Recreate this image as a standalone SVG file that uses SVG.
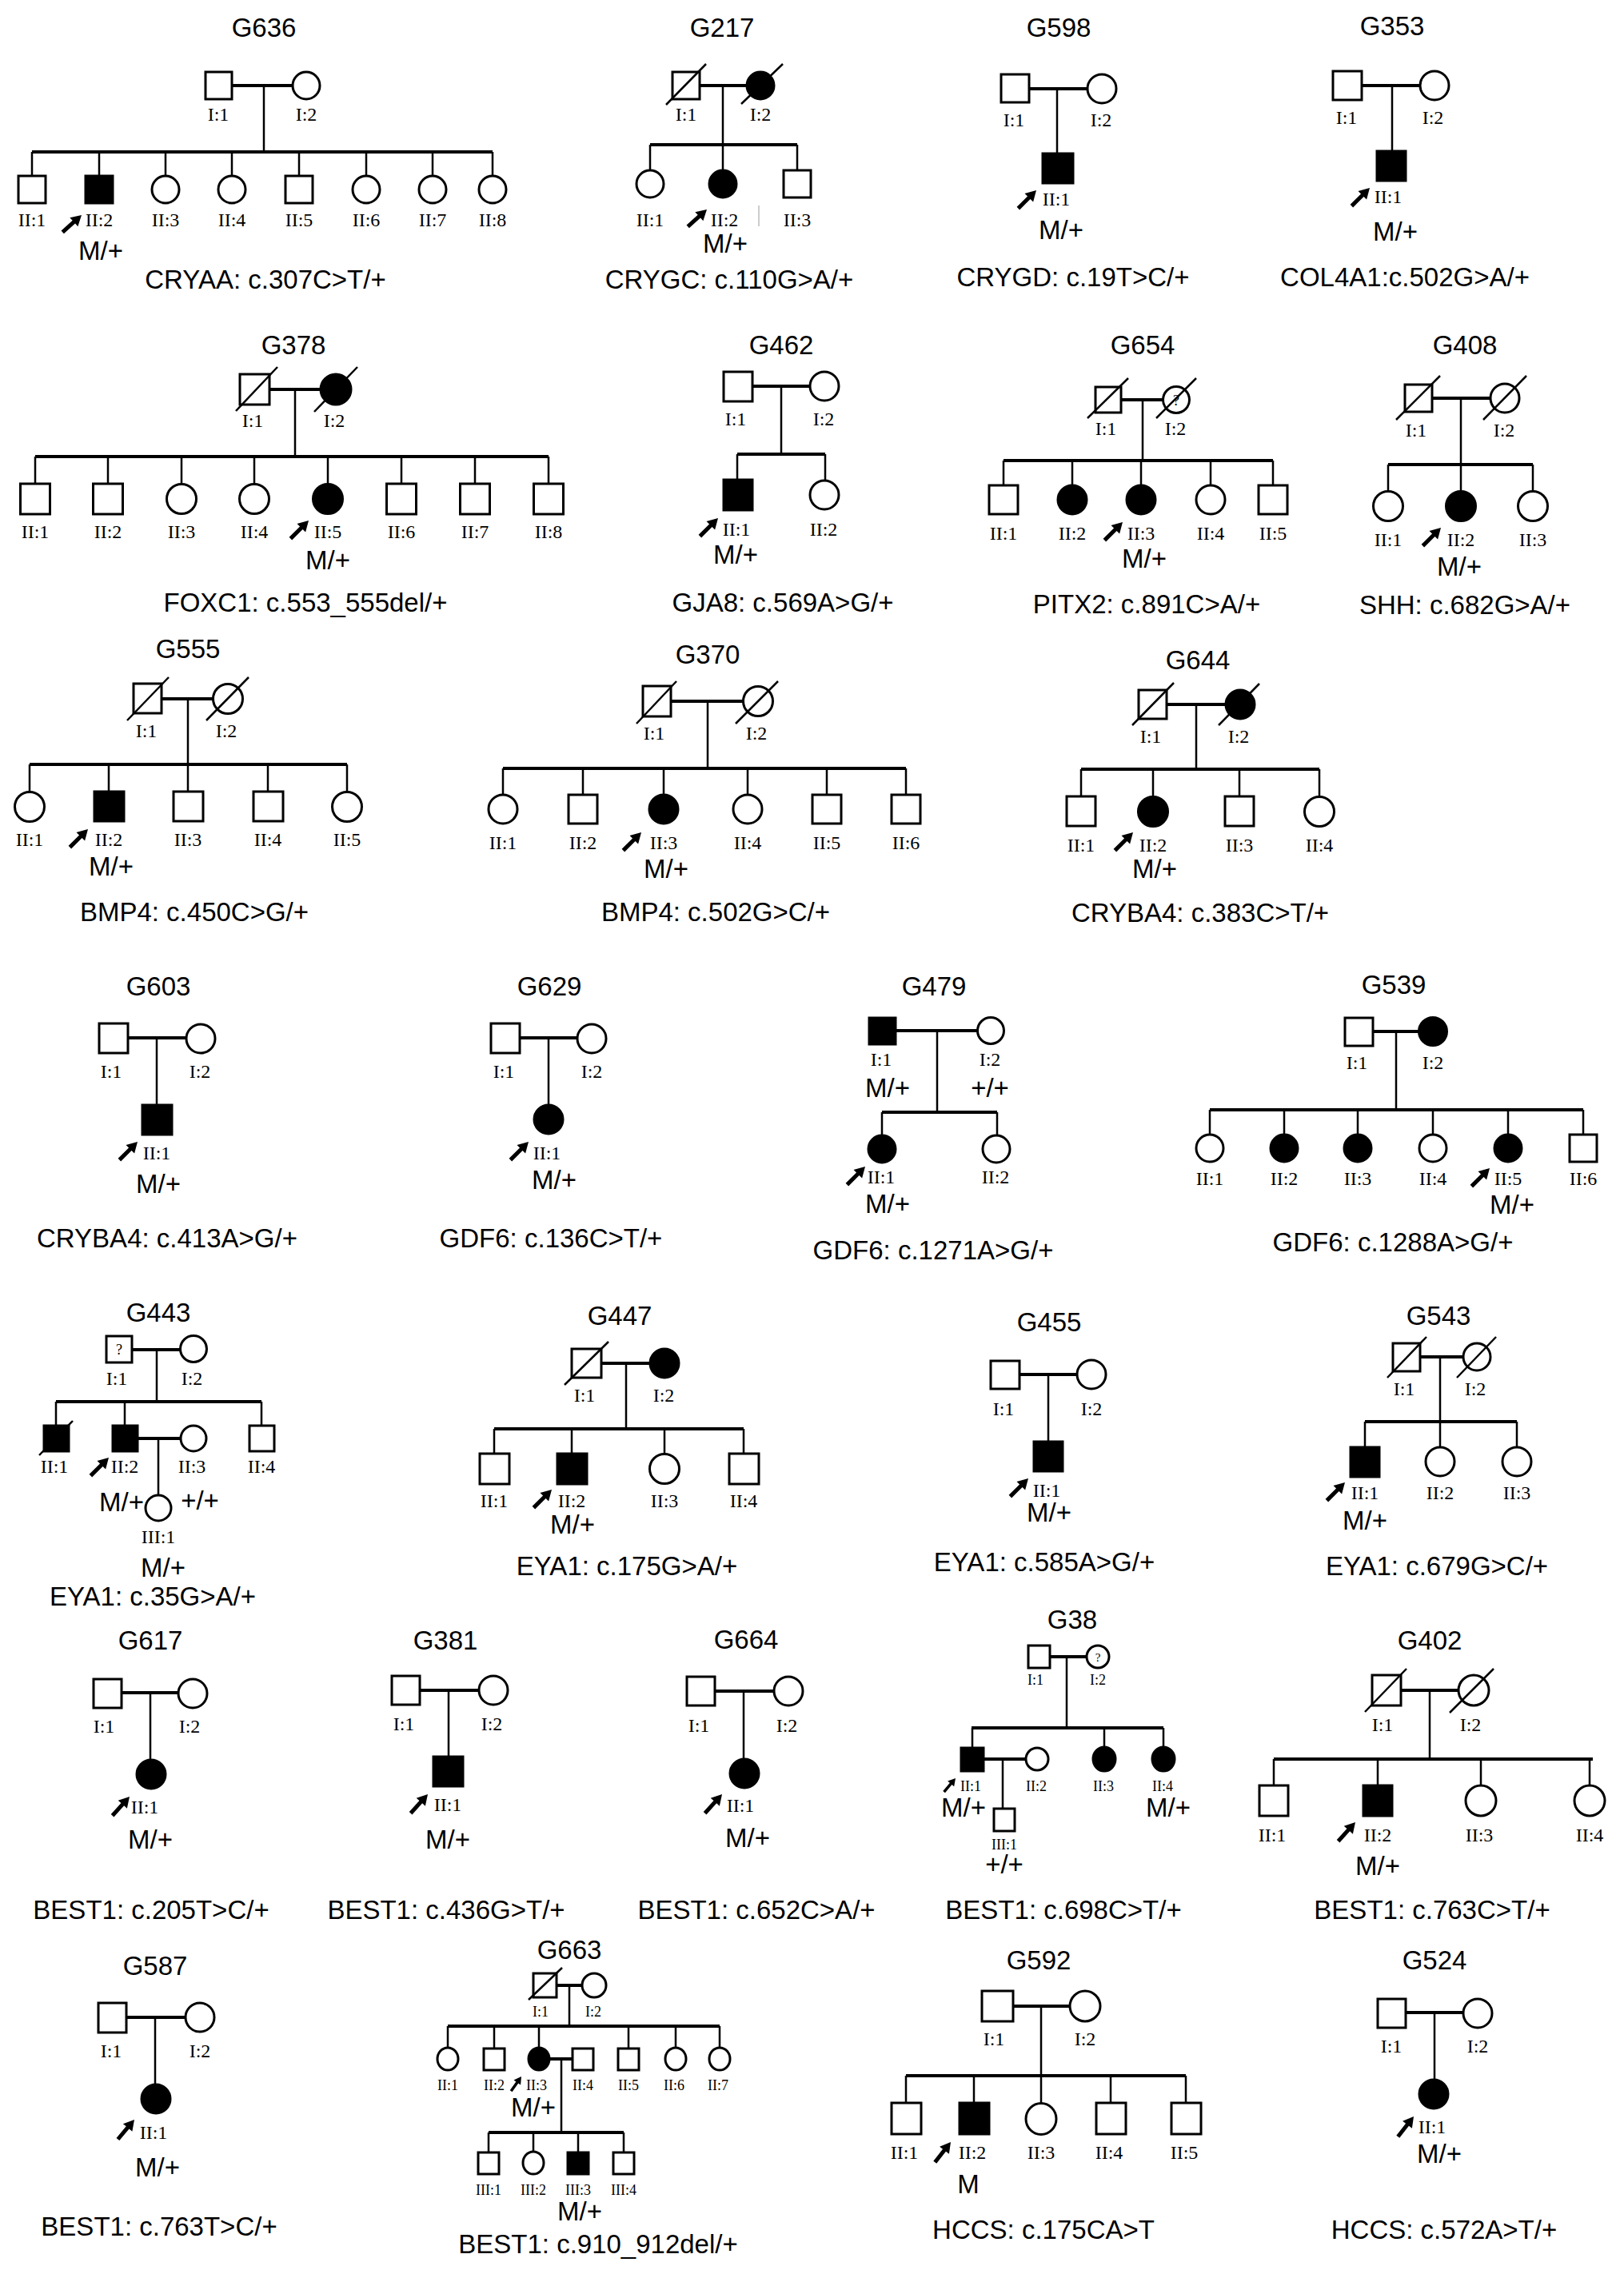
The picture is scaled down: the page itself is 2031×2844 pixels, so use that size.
<svg xmlns="http://www.w3.org/2000/svg" width="2031" height="2844" viewBox="0 0 2031 2844">
<style>
.n{fill:#fff;stroke:#000;stroke-width:3}
.f{fill:#000;stroke:#000;stroke-width:3}
.x{stroke:#000;stroke-width:2.5}
.c{fill:none;stroke:#000;stroke-width:2.5}
.k{stroke-width:4}
text{font-family:"Liberation Sans",Arial,sans-serif;text-anchor:middle;fill:#000}
.t{font-size:33px}
.m{font-size:33px}
.l{font-family:"Liberation Serif","Times New Roman",serif;font-size:24px}
.s{font-family:"Liberation Serif","Times New Roman",serif;font-size:18px}
.q{font-family:"Liberation Serif","Times New Roman",serif;font-size:18px}
</style>
<defs><path id="arr" d="M0,0L-13,-7.5L-13,-2.5L-32,-2.5L-32,2.5L-13,2.5L-13,7.5Z"/></defs>
<rect width="2031" height="2844" fill="#fff"/>

<!-- G636 -->
<g id="G636">
<text class="t" x="330" y="46">G636</text>
<g class="c" id="G636-conn"><path class="k" d="M290,107H366M40,190H616"/><path d="M330,107V190M40,190V220M124,190V220M207,190V220M290,190V220M374,190V220M458,190V220M541,190V220M616,190V220"/></g>
<g id="G636-I1"><rect class="n" x="257" y="90" width="33" height="34"/><text class="l" x="273" y="151">I:1</text></g>
<g id="G636-I2"><circle class="n" cx="383" cy="107" r="17"/><text class="l" x="383" y="151">I:2</text></g>
<g id="G636-II1"><rect class="n" x="23" y="220" width="34" height="34"/><text class="l" x="40" y="283">II:1</text></g>
<g id="G636-II2"><rect class="f" x="107" y="220" width="34" height="34"/><text class="l" x="124" y="283">II:2</text><use href="#arr" transform="translate(102,269) rotate(-42)"/><text class="m" x="126" y="325">M/+</text></g>
<g id="G636-II3"><circle class="n" cx="207" cy="237" r="17"/><text class="l" x="207" y="283">II:3</text></g>
<g id="G636-II4"><circle class="n" cx="290" cy="237" r="17"/><text class="l" x="290" y="283">II:4</text></g>
<g id="G636-II5"><rect class="n" x="357" y="220" width="34" height="34"/><text class="l" x="374" y="283">II:5</text></g>
<g id="G636-II6"><circle class="n" cx="458" cy="237" r="17"/><text class="l" x="458" y="283">II:6</text></g>
<g id="G636-II7"><circle class="n" cx="541" cy="237" r="17"/><text class="l" x="541" y="283">II:7</text></g>
<g id="G636-II8"><circle class="n" cx="616" cy="237" r="17"/><text class="l" x="616" y="283">II:8</text></g>
<text class="m" x="332" y="361">CRYAA: c.307C&gt;T/+</text>
</g>

<!-- G217 -->
<g id="G217">
<text class="t" x="903" y="46">G217</text>
<g class="c" id="G217-conn"><path class="k" d="M875,107H934M813,181H997"/><path d="M904,107V181M813,181V213M904,181V213M997,181V213"/></g>
<g id="G217-I1"><rect class="n" x="841" y="90" width="34" height="34"/><line class="x" x1="833" y1="131" x2="883" y2="80"/><text class="l" x="858" y="151">I:1</text></g>
<g id="G217-I2"><circle class="f" cx="951" cy="107" r="17"/><line class="x" x1="927" y1="130" x2="979" y2="80"/><text class="l" x="951" y="151">I:2</text></g>
<g id="G217-II1"><circle class="n" cx="813" cy="230" r="17"/><text class="l" x="813" y="283">II:1</text></g>
<g id="G217-II2"><circle class="f" cx="904" cy="230" r="17"/><text class="l" x="906" y="283">II:2</text><use href="#arr" transform="translate(884,262) rotate(-42)"/><text class="m" x="907" y="316">M/+</text></g>
<g id="G217-II3"><rect class="n" x="980" y="213" width="34" height="34"/><text class="l" x="997" y="283">II:3</text></g>
<line x1="949" y1="257" x2="949" y2="283" stroke="#bbb" stroke-width="1.5"/>
<text class="m" x="912" y="361">CRYGC: c.110G&gt;A/+</text>
</g>

<!-- G598 -->
<g id="G598">
<text class="t" x="1324" y="46">G598</text>
<g class="c" id="G598-conn"><path class="k" d="M1287,111H1360"/><path d="M1322,111V192"/></g>
<g id="G598-I1"><rect class="n" x="1252" y="93" width="35" height="35"/><text class="l" x="1268" y="158">I:1</text></g>
<g id="G598-I2"><circle class="n" cx="1378" cy="111" r="18"/><text class="l" x="1377" y="158">I:2</text></g>
<g id="G598-II1"><rect class="f" x="1304" y="192" width="38" height="37"/><text class="l" x="1321" y="257">II:1</text><use href="#arr" transform="translate(1296,238) rotate(-45)"/><text class="m" x="1327" y="299">M/+</text></g>
<text class="m" x="1342" y="358">CRYGD: c.19T&gt;C/+</text>
</g>

<!-- G353 -->
<g id="G353">
<text class="t" x="1741" y="44">G353</text>
<g class="c" id="G353-conn"><path class="k" d="M1703,107H1776"/><path d="M1741,107V189"/></g>
<g id="G353-I1"><rect class="n" x="1667" y="89" width="36" height="36"/><text class="l" x="1684" y="155">I:1</text></g>
<g id="G353-I2"><circle class="n" cx="1794" cy="107" r="18"/><text class="l" x="1792" y="155">I:2</text></g>
<g id="G353-II1"><rect class="f" x="1722" y="189" width="36" height="37"/><text class="l" x="1736" y="254">II:1</text><use href="#arr" transform="translate(1713,235) rotate(-45)"/><text class="m" x="1745" y="301">M/+</text></g>
<text class="m" x="1757" y="358">COL4A1:c.502G&gt;A/+</text>
</g>

<!-- G378 -->
<g id="G378">
<text class="t" x="367" y="443">G378</text>
<g class="c" id="G378-conn"><path class="k" d="M337,487H402M44,571H686"/><path d="M369,487V571M44,571V605M135,571V605M227,571V605M318,571V605M410,571V605M502,571V605M594,571V605M686,571V605"/></g>
<g id="G378-I1"><rect class="n" x="300" y="468" width="37" height="38"/><line class="x" x1="295" y1="514" x2="347" y2="459"/><text class="l" x="316" y="534">I:1</text></g>
<g id="G378-I2"><circle class="f" cx="420" cy="487" r="19"/><line class="x" x1="393" y1="515" x2="447" y2="459"/><text class="l" x="418" y="534">I:2</text></g>
<g id="G378-II1"><rect class="n" x="25.5" y="605" width="37" height="38"/><text class="l" x="44" y="673">II:1</text></g>
<g id="G378-II2"><rect class="n" x="116.5" y="605" width="37" height="38"/><text class="l" x="135" y="673">II:2</text></g>
<g id="G378-II3"><circle class="n" cx="227" cy="624" r="18.5"/><text class="l" x="227" y="673">II:3</text></g>
<g id="G378-II4"><circle class="n" cx="318" cy="624" r="18.5"/><text class="l" x="318" y="673">II:4</text></g>
<g id="G378-II5"><circle class="f" cx="410" cy="624" r="18.5"/><text class="l" x="410" y="673">II:5</text><use href="#arr" transform="translate(386,651) rotate(-45)"/><text class="m" x="410" y="712">M/+</text></g>
<g id="G378-II6"><rect class="n" x="483.5" y="605" width="37" height="38"/><text class="l" x="502" y="673">II:6</text></g>
<g id="G378-II7"><rect class="n" x="575.5" y="605" width="37" height="38"/><text class="l" x="594" y="673">II:7</text></g>
<g id="G378-II8"><rect class="n" x="667.5" y="605" width="37" height="38"/><text class="l" x="686" y="673">II:8</text></g>
<text class="m" x="382" y="765">FOXC1: c.553_555del/+</text>
</g>

<!-- G462 -->
<g id="G462">
<text class="t" x="977" y="443">G462</text>
<g class="c" id="G462-conn"><path class="k" d="M941,483H1013M922,568H1032"/><path d="M977,483V568M922,568V600M1032,568V600"/></g>
<g id="G462-I1"><rect class="n" x="905" y="465" width="36" height="37"/><text class="l" x="920" y="532">I:1</text></g>
<g id="G462-I2"><circle class="n" cx="1031" cy="483" r="18"/><text class="l" x="1030" y="532">I:2</text></g>
<g id="G462-II1"><rect class="f" x="905" y="600" width="36" height="38"/><text class="l" x="921" y="670">II:1</text><use href="#arr" transform="translate(898,648) rotate(-45)"/><text class="m" x="920" y="705">M/+</text></g>
<g id="G462-II2"><circle class="n" cx="1031" cy="619" r="18"/><text class="l" x="1030" y="670">II:2</text></g>
<text class="m" x="979" y="765">GJA8: c.569A&gt;G/+</text>
</g>

<!-- G654 -->
<g id="G654">
<text class="t" x="1429" y="443">G654</text>
<g class="c" id="G654-conn"><path class="k" d="M1402,500H1454M1255,576H1592"/><path d="M1429,500V576M1255,576V607M1341,576V607M1427,576V607M1514,576V607M1592,576V607"/></g>
<g id="G654-I1"><rect class="n" x="1370" y="484" width="32" height="32"/><line class="x" x1="1360" y1="523" x2="1411" y2="473"/><text class="l" x="1383" y="544">I:1</text></g>
<g id="G654-I2"><circle class="n" cx="1471" cy="500" r="16.5"/><text class="q" x="1471" y="507">?</text><line class="x" x1="1446" y1="523" x2="1496" y2="473"/><text class="l" x="1470" y="544">I:2</text></g>
<g id="G654-II1"><rect class="n" x="1237" y="607" width="36" height="36"/><text class="l" x="1255" y="675">II:1</text></g>
<g id="G654-II2"><circle class="f" cx="1341" cy="625" r="18"/><text class="l" x="1341" y="675">II:2</text></g>
<g id="G654-II3"><circle class="f" cx="1427" cy="625" r="18"/><text class="l" x="1427" y="675">II:3</text><use href="#arr" transform="translate(1404,653) rotate(-45)"/><text class="m" x="1431" y="710">M/+</text></g>
<g id="G654-II4"><circle class="n" cx="1514" cy="625" r="18"/><text class="l" x="1514" y="675">II:4</text></g>
<g id="G654-II5"><rect class="n" x="1574" y="607" width="36" height="36"/><text class="l" x="1592" y="675">II:5</text></g>
<text class="m" x="1434" y="767">PITX2: c.891C&gt;A/+</text>
</g>

<!-- G408 -->
<g id="G408">
<text class="t" x="1832" y="443">G408</text>
<g class="c" id="G408-conn"><path class="k" d="M1791,498H1864M1736,581H1917"/><path d="M1827,498V581M1736,581V615M1827,581V615M1917,581V615"/></g>
<g id="G408-I1"><rect class="n" x="1757" y="481" width="34" height="34"/><line class="x" x1="1746" y1="525" x2="1801" y2="470"/><text class="l" x="1771" y="546">I:1</text></g>
<g id="G408-I2"><circle class="n" cx="1882" cy="498" r="18"/><line class="x" x1="1855" y1="525" x2="1909" y2="470"/><text class="l" x="1881" y="546">I:2</text></g>
<g id="G408-II1"><circle class="n" cx="1736" cy="633" r="18.5"/><text class="l" x="1736" y="683">II:1</text></g>
<g id="G408-II2"><circle class="f" cx="1827" cy="633" r="18.5"/><text class="l" x="1827" y="683">II:2</text><use href="#arr" transform="translate(1802,660) rotate(-45)"/><text class="m" x="1825" y="720">M/+</text></g>
<g id="G408-II3"><circle class="n" cx="1917" cy="633" r="18.5"/><text class="l" x="1917" y="683">II:3</text></g>
<text class="m" x="1832" y="768">SHH: c.682G&gt;A/+</text>
</g>

<!-- G555 -->
<g id="G555">
<text class="t" x="235" y="823">G555</text>
<g class="c" id="G555-conn"><path class="k" d="M202,874H267M37,956H434"/><path d="M235,874V956M37,956V990M136,956V990M235,956V990M335,956V990M434,956V990"/></g>
<g id="G555-I1"><rect class="n" x="167" y="855" width="35" height="37"/><line class="x" x1="159" y1="901" x2="211" y2="847"/><text class="l" x="183" y="922">I:1</text></g>
<g id="G555-I2"><circle class="n" cx="285" cy="874" r="18.5"/><line class="x" x1="258" y1="901" x2="311" y2="847"/><text class="l" x="283" y="922">I:2</text></g>
<g id="G555-II1"><circle class="n" cx="37" cy="1009" r="18.5"/><text class="l" x="37" y="1058">II:1</text></g>
<g id="G555-II2"><rect class="f" x="118" y="990" width="37" height="37"/><text class="l" x="136" y="1058">II:2</text><use href="#arr" transform="translate(110,1037) rotate(-45)"/><text class="m" x="139" y="1095">M/+</text></g>
<g id="G555-II3"><rect class="n" x="217" y="990" width="37" height="37"/><text class="l" x="235" y="1058">II:3</text></g>
<g id="G555-II4"><rect class="n" x="317" y="990" width="37" height="37"/><text class="l" x="335" y="1058">II:4</text></g>
<g id="G555-II5"><circle class="n" cx="434" cy="1009" r="18.5"/><text class="l" x="434" y="1058">II:5</text></g>
<text class="m" x="243" y="1152">BMP4: c.450C&gt;G/+</text>
</g>

<!-- G370 -->
<g id="G370">
<text class="t" x="885" y="830">G370</text>
<g class="c" id="G370-conn"><path class="k" d="M839,877H930M629,961H1133"/><path d="M885,877V961M629,961V994M729,961V994M830,961V994M935,961V994M1034,961V994M1133,961V994"/></g>
<g id="G370-I1"><rect class="n" x="804" y="858" width="35" height="38"/><line class="x" x1="796" y1="905" x2="846" y2="852"/><text class="l" x="818" y="925">I:1</text></g>
<g id="G370-I2"><circle class="n" cx="948" cy="877" r="18.5"/><line class="x" x1="920" y1="905" x2="973" y2="852"/><text class="l" x="946" y="925">I:2</text></g>
<g id="G370-II1"><circle class="n" cx="629" cy="1012" r="18"/><text class="l" x="629" y="1062">II:1</text></g>
<g id="G370-II2"><rect class="n" x="711" y="994" width="36" height="36"/><text class="l" x="729" y="1062">II:2</text></g>
<g id="G370-II3"><circle class="f" cx="830" cy="1012" r="18"/><text class="l" x="830" y="1062">II:3</text><use href="#arr" transform="translate(802,1041) rotate(-45)"/><text class="m" x="833" y="1098">M/+</text></g>
<g id="G370-II4"><circle class="n" cx="935" cy="1012" r="18"/><text class="l" x="935" y="1062">II:4</text></g>
<g id="G370-II5"><rect class="n" x="1016" y="994" width="36" height="36"/><text class="l" x="1034" y="1062">II:5</text></g>
<g id="G370-II6"><rect class="n" x="1115" y="994" width="36" height="36"/><text class="l" x="1133" y="1062">II:6</text></g>
<text class="m" x="895" y="1152">BMP4: c.502G&gt;C/+</text>
</g>

<!-- G644 -->
<g id="G644">
<text class="t" x="1498" y="837">G644</text>
<g class="c" id="G644-conn"><path class="k" d="M1459,881H1533M1352,962H1650"/><path d="M1496,881V962M1352,962V996M1442,962V996M1550,962V996M1650,962V996"/></g>
<g id="G644-I1"><rect class="n" x="1424" y="863" width="35" height="36"/><line class="x" x1="1416" y1="907" x2="1468" y2="854"/><text class="l" x="1439" y="929">I:1</text></g>
<g id="G644-I2"><circle class="f" cx="1551" cy="881" r="18"/><line class="x" x1="1524" y1="907" x2="1575" y2="855"/><text class="l" x="1549" y="929">I:2</text></g>
<g id="G644-II1"><rect class="n" x="1334" y="996" width="36" height="37"/><text class="l" x="1352" y="1065">II:1</text></g>
<g id="G644-II2"><circle class="f" cx="1442" cy="1015" r="18.5"/><text class="l" x="1442" y="1065">II:2</text><use href="#arr" transform="translate(1417,1041) rotate(-45)"/><text class="m" x="1444" y="1098">M/+</text></g>
<g id="G644-II3"><rect class="n" x="1532" y="996" width="36" height="37"/><text class="l" x="1550" y="1065">II:3</text></g>
<g id="G644-II4"><circle class="n" cx="1650" cy="1015" r="18.5"/><text class="l" x="1650" y="1065">II:4</text></g>
<text class="m" x="1501" y="1153">CRYBA4: c.383C&gt;T/+</text>
</g>

<!-- G603 -->
<g id="G603">
<text class="t" x="198" y="1245">G603</text>
<g class="c" id="G603-conn"><path class="k" d="M160,1298H233"/><path d="M196,1298V1382"/></g>
<g id="G603-I1"><rect class="n" x="124" y="1280" width="36" height="37"/><text class="l" x="139" y="1348">I:1</text></g>
<g id="G603-I2"><circle class="n" cx="251" cy="1299" r="18"/><text class="l" x="250" y="1348">I:2</text></g>
<g id="G603-II1"><rect class="f" x="178" y="1382" width="37" height="37"/><text class="l" x="196" y="1450">II:1</text><use href="#arr" transform="translate(172,1428) rotate(-45)"/><text class="m" x="198" y="1492">M/+</text></g>
<text class="m" x="209" y="1560">CRYBA4: c.413A&gt;G/+</text>
</g>

<!-- G629 -->
<g id="G629">
<text class="t" x="687" y="1245">G629</text>
<g class="c" id="G629-conn"><path class="k" d="M650,1298H722"/><path d="M686,1298V1382"/></g>
<g id="G629-I1"><rect class="n" x="614" y="1280" width="36" height="37"/><text class="l" x="630" y="1348">I:1</text></g>
<g id="G629-I2"><circle class="n" cx="740" cy="1299" r="18"/><text class="l" x="740" y="1348">I:2</text></g>
<g id="G629-II1"><circle class="f" cx="686" cy="1400" r="18"/><text class="l" x="684" y="1450">II:1</text><use href="#arr" transform="translate(661,1428) rotate(-45)"/><text class="m" x="693" y="1487">M/+</text></g>
<text class="m" x="689" y="1560">GDF6: c.136C&gt;T/+</text>
</g>

<!-- G479 -->
<g id="G479">
<text class="t" x="1168" y="1245">G479</text>
<g class="c" id="G479-conn"><path class="k" d="M1120,1289H1223M1103,1391H1247"/><path d="M1172,1289V1391M1103,1391V1420M1247,1391V1420"/></g>
<g id="G479-I1"><rect class="f" x="1087" y="1273" width="33" height="33"/><text class="l" x="1102" y="1333">I:1</text><text class="m" x="1110" y="1372">M/+</text></g>
<g id="G479-I2"><circle class="n" cx="1239" cy="1289" r="16.5"/><text class="l" x="1238" y="1333">I:2</text><text class="m" x="1238" y="1372">+/+</text></g>
<g id="G479-II1"><circle class="f" cx="1103" cy="1437" r="17"/><text class="l" x="1102" y="1480">II:1</text><use href="#arr" transform="translate(1082,1459) rotate(-45)"/><text class="m" x="1110" y="1517">M/+</text></g>
<g id="G479-II2"><circle class="n" cx="1246" cy="1437" r="17"/><text class="l" x="1245" y="1480">II:2</text></g>
<text class="m" x="1167" y="1575">GDF6: c.1271A&gt;G/+</text>
</g>

<!-- G539 -->
<g id="G539">
<text class="t" x="1743" y="1243">G539</text>
<g class="c" id="G539-conn"><path class="k" d="M1717,1290H1775M1513,1388H1980"/><path d="M1746,1290V1388M1513,1388V1419M1606,1388V1419M1698,1388V1419M1792,1388V1419M1886,1388V1419M1980,1388V1419"/></g>
<g id="G539-I1"><rect class="n" x="1682" y="1273" width="35" height="35"/><text class="l" x="1697" y="1337">I:1</text></g>
<g id="G539-I2"><circle class="f" cx="1792" cy="1290" r="17.5"/><text class="l" x="1792" y="1337">I:2</text></g>
<g id="G539-II1"><circle class="n" cx="1513" cy="1436" r="17"/><text class="l" x="1513" y="1482">II:1</text></g>
<g id="G539-II2"><circle class="f" cx="1606" cy="1436" r="17"/><text class="l" x="1606" y="1482">II:2</text></g>
<g id="G539-II3"><circle class="f" cx="1698" cy="1436" r="17"/><text class="l" x="1698" y="1482">II:3</text></g>
<g id="G539-II4"><circle class="n" cx="1792" cy="1436" r="17"/><text class="l" x="1792" y="1482">II:4</text></g>
<g id="G539-II5"><circle class="f" cx="1886" cy="1436" r="17"/><text class="l" x="1886" y="1482">II:5</text><use href="#arr" transform="translate(1863,1461) rotate(-45)"/><text class="m" x="1891" y="1518">M/+</text></g>
<g id="G539-II6"><rect class="n" x="1963" y="1419" width="34" height="34"/><text class="l" x="1980" y="1482">II:6</text></g>
<text class="m" x="1742" y="1565">GDF6: c.1288A&gt;G/+</text>
</g>

<!-- G443 -->
<g id="G443">
<text class="t" x="198" y="1653">G443</text>
<g class="c" id="G443-conn"><path class="k" d="M165,1688H226M70,1753H327M172,1799H226"/><path d="M196,1688V1753M70,1753V1783M156,1753V1783M327,1753V1783M198,1799V1870"/></g>
<g id="G443-I1"><rect class="n" x="133" y="1671" width="32" height="33"/><text class="q" x="149" y="1694">?</text><text class="l" x="146" y="1732">I:1</text></g>
<g id="G443-I2"><circle class="n" cx="242" cy="1687" r="16.5"/><text class="l" x="240" y="1732">I:2</text></g>
<g id="G443-II1"><rect class="f" x="55" y="1783" width="31" height="32"/><line class="x" x1="49" y1="1820" x2="91" y2="1777"/><text class="l" x="68" y="1842">II:1</text></g>
<g id="G443-II2"><rect class="f" x="141" y="1783" width="31" height="32"/><text class="l" x="156" y="1842">II:2</text><use href="#arr" transform="translate(136,1823) rotate(-45)"/></g>
<g id="G443-II3"><circle class="n" cx="242" cy="1799" r="16"/><text class="l" x="240" y="1842">II:3</text></g>
<g id="G443-II4"><rect class="n" x="312" y="1783" width="31" height="32"/><text class="l" x="327" y="1842">II:4</text></g>
<g id="G443-III1"><circle class="n" cx="198" cy="1886" r="16"/><text class="l" x="198" y="1930">III:1</text><text class="m" x="152" y="1890">M/+</text><text class="m" x="250" y="1888">+/+</text><text class="m" x="204" y="1972">M/+</text></g>
<text class="m" x="191" y="2008">EYA1: c.35G&gt;A/+</text>
</g>

<!-- G447 -->
<g id="G447">
<text class="t" x="775" y="1657">G447</text>
<g class="c" id="G447-conn"><path class="k" d="M752,1705H813M618,1787H930"/><path d="M783,1705V1787M618,1787V1818M715,1787V1818M831,1787V1818M930,1787V1818"/></g>
<g id="G447-I1"><rect class="n" x="715" y="1687" width="37" height="36"/><line class="x" x1="706" y1="1732" x2="761" y2="1678"/><text class="l" x="731" y="1753">I:1</text></g>
<g id="G447-I2"><circle class="f" cx="831" cy="1705" r="18"/><text class="l" x="830" y="1753">I:2</text></g>
<g id="G447-II1"><rect class="n" x="600" y="1818" width="37" height="38"/><text class="l" x="618" y="1885">II:1</text></g>
<g id="G447-II2"><rect class="f" x="697" y="1818" width="37" height="38"/><text class="l" x="715" y="1885">II:2</text><use href="#arr" transform="translate(690,1863) rotate(-45)"/><text class="m" x="716" y="1918">M/+</text></g>
<g id="G447-II3"><circle class="n" cx="831" cy="1837" r="18.5"/><text class="l" x="831" y="1885">II:3</text></g>
<g id="G447-II4"><rect class="n" x="912" y="1818" width="37" height="38"/><text class="l" x="930" y="1885">II:4</text></g>
<text class="m" x="784" y="1970">EYA1: c.175G&gt;A/+</text>
</g>

<!-- G455 -->
<g id="G455">
<text class="t" x="1312" y="1665">G455</text>
<g class="c" id="G455-conn"><path class="k" d="M1275,1719H1347"/><path d="M1311,1719V1803"/></g>
<g id="G455-I1"><rect class="n" x="1239" y="1702" width="36" height="35"/><text class="l" x="1255" y="1770">I:1</text></g>
<g id="G455-I2"><circle class="n" cx="1365" cy="1719" r="18"/><text class="l" x="1365" y="1770">I:2</text></g>
<g id="G455-II1"><rect class="f" x="1293" y="1803" width="36" height="37"/><text class="l" x="1309" y="1872">II:1</text><use href="#arr" transform="translate(1286,1849) rotate(-45)"/><text class="m" x="1312" y="1903">M/+</text></g>
<text class="m" x="1306" y="1965">EYA1: c.585A&gt;G/+</text>
</g>

<!-- G543 -->
<g id="G543">
<text class="t" x="1799" y="1657">G543</text>
<g class="c" id="G543-conn"><path class="k" d="M1776,1697H1830M1707,1778H1897"/><path d="M1801,1697V1810M1707,1778V1810M1897,1778V1810"/></g>
<g id="G543-I1"><rect class="n" x="1742" y="1680" width="34" height="35"/><line class="x" x1="1735" y1="1723" x2="1784" y2="1672"/><text class="l" x="1756" y="1745">I:1</text></g>
<g id="G543-I2"><circle class="n" cx="1847" cy="1697" r="17"/><line class="x" x1="1822" y1="1723" x2="1871" y2="1672"/><text class="l" x="1845" y="1745">I:2</text></g>
<g id="G543-II1"><rect class="f" x="1689" y="1810" width="36" height="37"/><text class="l" x="1707" y="1875">II:1</text><use href="#arr" transform="translate(1682,1854) rotate(-45)"/><text class="m" x="1707" y="1913">M/+</text></g>
<g id="G543-II2"><circle class="n" cx="1801" cy="1828" r="18"/><text class="l" x="1801" y="1875">II:2</text></g>
<g id="G543-II3"><circle class="n" cx="1897" cy="1828" r="18"/><text class="l" x="1897" y="1875">II:3</text></g>
<text class="m" x="1797" y="1970">EYA1: c.679G&gt;C/+</text>
</g>

<!-- G617 -->
<g id="G617">
<text class="t" x="188" y="2063">G617</text>
<g class="c" id="G617-conn"><path class="k" d="M152,2117H223"/><path d="M188,2117V2202"/></g>
<g id="G617-I1"><rect class="n" x="117" y="2100" width="35" height="36"/><text class="l" x="130" y="2167">I:1</text></g>
<g id="G617-I2"><circle class="n" cx="241" cy="2118" r="18"/><text class="l" x="237" y="2167">I:2</text></g>
<g id="G617-II1"><circle class="f" cx="189" cy="2219" r="18"/><text class="l" x="181" y="2268">II:1</text><use href="#arr" transform="translate(162,2247) rotate(-48)"/><text class="m" x="188" y="2312">M/+</text></g>
<text class="m" x="189" y="2400">BEST1: c.205T&gt;C/+</text>
</g>

<!-- G381 -->
<g id="G381">
<text class="t" x="557" y="2063">G381</text>
<g class="c" id="G381-conn"><path class="k" d="M525,2114H599"/><path d="M561,2114V2197"/></g>
<g id="G381-I1"><rect class="n" x="490" y="2096" width="35" height="36"/><text class="l" x="505" y="2164">I:1</text></g>
<g id="G381-I2"><circle class="n" cx="617" cy="2114" r="18"/><text class="l" x="615" y="2164">I:2</text></g>
<g id="G381-II1"><rect class="f" x="542" y="2197" width="37" height="37"/><text class="l" x="560" y="2265">II:1</text><use href="#arr" transform="translate(535,2244) rotate(-48)"/><text class="m" x="560" y="2312">M/+</text></g>
<text class="m" x="558" y="2400">BEST1: c.436G&gt;T/+</text>
</g>

<!-- G664 -->
<g id="G664">
<text class="t" x="933" y="2062">G664</text>
<g class="c" id="G664-conn"><path class="k" d="M894,2115H968"/><path d="M930,2115V2200"/></g>
<g id="G664-I1"><rect class="n" x="859" y="2097" width="35" height="36"/><text class="l" x="874" y="2166">I:1</text></g>
<g id="G664-I2"><circle class="n" cx="986" cy="2115" r="18"/><text class="l" x="984" y="2166">I:2</text></g>
<g id="G664-II1"><circle class="f" cx="931" cy="2218" r="18"/><text class="l" x="926" y="2266">II:1</text><use href="#arr" transform="translate(903,2244) rotate(-48)"/><text class="m" x="935" y="2310">M/+</text></g>
<text class="m" x="946" y="2400">BEST1: c.652C&gt;A/+</text>
</g>

<!-- G38 -->
<g id="G38">
<text class="t" x="1341" y="2037">G38</text>
<g class="c" id="G38-conn"><path class="k" d="M1312,2072H1359M1215,2161H1455M1230,2200H1283"/><path d="M1334,2072V2161M1216,2161V2186M1381,2161V2186M1455,2161V2186M1254,2200V2262"/></g>
<g id="G38-I1"><rect class="n" x="1286" y="2058" width="27" height="28"/><text class="s" x="1295" y="2107">I:1</text></g>
<g id="G38-I2"><circle class="n" cx="1373" cy="2072" r="14"/><text class="q" x="1373" y="2078" style="font-size:15px">?</text><text class="s" x="1373" y="2107">I:2</text></g>
<g id="G38-II1"><rect class="f" x="1202" y="2186" width="28" height="29"/><text class="s" x="1214" y="2240">II:1</text><use href="#arr" transform="translate(1195,2224) rotate(-50) scale(0.7)"/><text class="m" x="1205" y="2272">M/+</text></g>
<g id="G38-II2"><circle class="n" cx="1297" cy="2200" r="14"/><text class="s" x="1296" y="2240">II:2</text></g>
<g id="G38-II3"><ellipse class="f" cx="1381" cy="2200" rx="14" ry="15"/><text class="s" x="1380" y="2240">II:3</text></g>
<g id="G38-II4"><ellipse class="f" cx="1455" cy="2200" rx="14" ry="15"/><text class="s" x="1454" y="2240">II:4</text><text class="m" x="1461" y="2272">M/+</text></g>
<g id="G38-III1"><rect class="n" x="1243" y="2262" width="26" height="28"/><text class="s" x="1256" y="2313">III:1</text><text class="m" x="1256" y="2343">+/+</text></g>
<text class="m" x="1330" y="2400">BEST1: c.698C&gt;T/+</text>
</g>

<!-- G402 -->
<g id="G402">
<text class="t" x="1788" y="2063">G402</text>
<g class="c" id="G402-conn"><path class="k" d="M1752,2114H1824M1593,2200H1992"/><path d="M1788,2114V2200M1593,2200V2233M1723,2200V2233M1852,2200V2233M1988,2200V2233"/></g>
<g id="G402-I1"><rect class="n" x="1716" y="2095" width="36" height="38"/><line class="x" x1="1707" y1="2141" x2="1759" y2="2087"/><text class="l" x="1729" y="2165">I:1</text></g>
<g id="G402-I2"><circle class="n" cx="1843" cy="2114" r="19"/><line class="x" x1="1813" y1="2142" x2="1868" y2="2087"/><text class="l" x="1839" y="2165">I:2</text></g>
<g id="G402-II1"><rect class="n" x="1575" y="2233" width="36" height="38"/><text class="l" x="1591" y="2303">II:1</text></g>
<g id="G402-II2"><rect class="f" x="1705" y="2233" width="36" height="38"/><text class="l" x="1723" y="2303">II:2</text><use href="#arr" transform="translate(1695,2279) rotate(-48)"/><text class="m" x="1723" y="2345">M/+</text></g>
<g id="G402-II3"><circle class="n" cx="1852" cy="2252" r="19"/><text class="l" x="1850" y="2303">II:3</text></g>
<g id="G402-II4"><circle class="n" cx="1988" cy="2252" r="19"/><text class="l" x="1988" y="2303">II:4</text></g>
<text class="m" x="1791" y="2400">BEST1: c.763C&gt;T/+</text>
</g>

<!-- G587 -->
<g id="G587">
<text class="t" x="194" y="2470">G587</text>
<g class="c" id="G587-conn"><path class="k" d="M158,2523H232"/><path d="M194,2523V2608"/></g>
<g id="G587-I1"><rect class="n" x="123" y="2505" width="35" height="37"/><text class="l" x="139" y="2573">I:1</text></g>
<g id="G587-I2"><circle class="n" cx="250" cy="2523" r="18"/><text class="l" x="250" y="2573">I:2</text></g>
<g id="G587-II1"><circle class="f" cx="195" cy="2625" r="18"/><text class="l" x="192" y="2675">II:1</text><use href="#arr" transform="translate(168,2651) rotate(-50)"/><text class="m" x="197" y="2722">M/+</text></g>
<text class="m" x="199" y="2796">BEST1: c.763T&gt;C/+</text>
</g>

<!-- G663 -->
<g id="G663">
<text class="t" x="712" y="2450">G663</text>
<g class="c" id="G663-conn"><path class="k" d="M696,2483H728M560,2534H900M688,2575H716M611,2667H780"/><path d="M712,2483V2534M560,2534V2562M618,2534V2562M674,2534V2562M786,2534V2562M845,2534V2562M900,2534V2562M702,2575V2667M611,2667V2692M667,2667V2692M723,2667V2692M780,2667V2692"/></g>
<g id="G663-I1"><rect class="n" x="667" y="2468" width="29" height="30"/><line class="x" x1="661" y1="2501" x2="703" y2="2461"/><text class="s" x="676" y="2522">I:1</text></g>
<g id="G663-I2"><circle class="n" cx="743" cy="2483" r="15"/><text class="s" x="742" y="2522">I:2</text></g>
<g id="G663-II1"><ellipse class="n" cx="560" cy="2575" rx="13" ry="14"/><text class="s" x="560" y="2614">II:1</text></g>
<g id="G663-II2"><rect class="n" x="605" y="2562" width="26" height="27"/><text class="s" x="618" y="2614">II:2</text></g>
<g id="G663-II3"><ellipse class="f" cx="674" cy="2575" rx="13" ry="14"/><text class="s" x="671" y="2614">II:3</text><use href="#arr" transform="translate(652,2597) rotate(-55) scale(0.7)"/><text class="m" x="667" y="2647">M/+</text></g>
<g id="G663-II4"><rect class="n" x="716" y="2562" width="26" height="27"/><text class="s" x="729" y="2614">II:4</text></g>
<g id="G663-II5"><rect class="n" x="773" y="2562" width="26" height="27"/><text class="s" x="786" y="2614">II:5</text></g>
<g id="G663-II6"><ellipse class="n" cx="845" cy="2575" rx="13" ry="14"/><text class="s" x="843" y="2614">II:6</text></g>
<g id="G663-II7"><ellipse class="n" cx="900" cy="2575" rx="13" ry="14"/><text class="s" x="898" y="2614">II:7</text></g>
<g id="G663-III1"><rect class="n" x="598" y="2692" width="26" height="27"/><text class="s" x="611" y="2745">III:1</text></g>
<g id="G663-III2"><ellipse class="n" cx="667" cy="2705" rx="13" ry="14"/><text class="s" x="667" y="2745">III:2</text></g>
<g id="G663-III3"><rect class="f" x="710" y="2692" width="26" height="27"/><text class="s" x="723" y="2745">III:3</text><text class="m" x="725" y="2777">M/+</text></g>
<g id="G663-III4"><rect class="n" x="767" y="2692" width="26" height="27"/><text class="s" x="780" y="2745">III:4</text></g>
<text class="m" x="748" y="2818">BEST1: c.910_912del/+</text>
</g>

<!-- G592 -->
<g id="G592">
<text class="t" x="1299" y="2463">G592</text>
<g class="c" id="G592-conn"><path class="k" d="M1267,2509H1338M1133,2596H1483"/><path d="M1302,2509V2596M1133,2596V2630M1218,2596V2630M1302,2596V2630M1389,2596V2630M1483,2596V2630"/></g>
<g id="G592-I1"><rect class="n" x="1228" y="2490" width="39" height="38"/><text class="l" x="1243" y="2558">I:1</text></g>
<g id="G592-I2"><circle class="n" cx="1357" cy="2509" r="19"/><text class="l" x="1357" y="2558">I:2</text></g>
<g id="G592-II1"><rect class="n" x="1115" y="2630" width="37" height="39"/><text class="l" x="1131" y="2700">II:1</text></g>
<g id="G592-II2"><rect class="f" x="1200" y="2630" width="37" height="39"/><text class="l" x="1216" y="2700">II:2</text><use href="#arr" transform="translate(1189,2679) rotate(-52)"/><text class="m" x="1211" y="2743">M</text></g>
<g id="G592-II3"><ellipse class="n" cx="1302" cy="2650" rx="19" ry="19.5"/><text class="l" x="1302" y="2700">II:3</text></g>
<g id="G592-II4"><rect class="n" x="1371" y="2630" width="37" height="39"/><text class="l" x="1387" y="2700">II:4</text></g>
<g id="G592-II5"><rect class="n" x="1465" y="2630" width="37" height="39"/><text class="l" x="1481" y="2700">II:5</text></g>
<text class="m" x="1305" y="2800">HCCS: c.175CA&gt;T</text>
</g>

<!-- G524 -->
<g id="G524">
<text class="t" x="1794" y="2463">G524</text>
<g class="c" id="G524-conn"><path class="k" d="M1758,2517H1830"/><path d="M1794,2517V2602"/></g>
<g id="G524-I1"><rect class="n" x="1723" y="2500" width="35" height="36"/><text class="l" x="1740" y="2567">I:1</text></g>
<g id="G524-I2"><circle class="n" cx="1848" cy="2518" r="18"/><text class="l" x="1848" y="2567">I:2</text></g>
<g id="G524-II1"><circle class="f" cx="1793" cy="2619" r="18"/><text class="l" x="1791" y="2668">II:1</text><use href="#arr" transform="translate(1768,2647) rotate(-52)"/><text class="m" x="1800" y="2705">M/+</text></g>
<text class="m" x="1806" y="2800">HCCS: c.572A&gt;T/+</text>
</g>
</svg>
